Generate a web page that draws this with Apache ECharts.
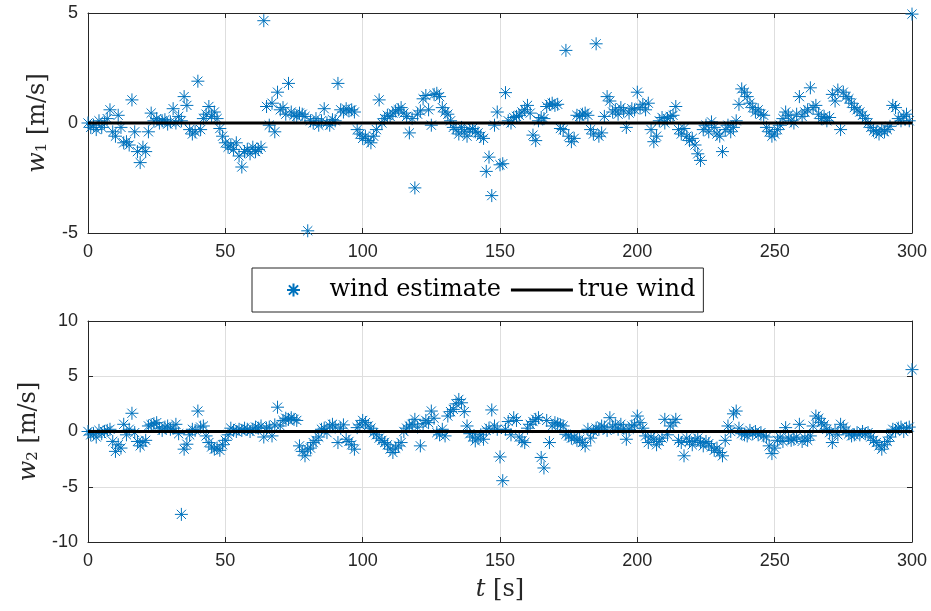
<!DOCTYPE html>
<html>
<head>
<meta charset="utf-8">
<script src="https://cdn.jsdelivr.net/npm/echarts@6/dist/echarts.min.js"></script>
<style>
html,body{margin:0;padding:0;background:#fff;}
#chart{width:931px;height:611px;}
</style>
</head>
<body>
<div id="chart"></div>
<script>
// sample time settings
const tStart = 0;
const dt = 1;
// estimated wind component w1 [m/s], one value per second, t = 0..300
const w1Est = [
  0, -0.2, -0.1, -0.3, 0.1, -0.2, 0, 0.2, 0.6, -0.4,
  -0.6, 0.35, -0.2, -0.9, -0.85, -1.0, 1.05, -0.4, -1.3, -1.8,
  -1.1, -1.3, -0.4, 0.45, 0.1, 0.2, 0.0, 0.1, 0.15, -0.05,
  0.05, 0.65, 0.0, 0.3, 0.1, 1.2, 0.8, -0.3, -0.5, -0.4,
  1.9, -0.3, 0.2, 0.4, 0.75, 0.3, 0.5, 0.2, -0.25, -0.6,
  -0.9, -1.1, -1.0, -1.2, -0.9, -1.5, -2.0, -1.3, -1.2, -1.4,
  -1.1, -1.3, -1.2, -1.1, 4.65, 0.75, -0.1, 0.9, -0.4, 1.4,
  0.6, 0.7, 0.4, 1.8, 0.5, 0.35, 0.3, 0.45, 0.4, 0.3,
  -4.9, 0.1, 0.0, 0.2, -0.1, 0.1, 0.65, 0.0, -0.1, 0.15,
  0.1, 1.8, 0.6, 0.5, 0.65, 0.55, 0.6, 0.5, -0.3, -0.5,
  -0.7, -0.6, -0.8, -0.9, -0.6, -0.3, 1.05, 0.0, 0.2, 0.35,
  0.3, 0.45, 0.55, 0.6, 0.7, 0.45, 0.3, -0.45, 0.2, -2.95,
  0.4, 0.55, 1.1, 1.25, 0.6, -0.1, 1.3, 1.35, 1.2, 0.7,
  0.5, 0.4, 0.1, -0.2, -0.3, -0.5, -0.2, -0.4, -0.6, -0.3,
  -0.25, -0.4, -0.45, -0.6, -0.7, -2.2, -1.55, -3.3, -0.1, 0.5,
  -1.9, -1.85, 1.38, 0.1, 0.0, 0.25, 0.3, 0.35, 0.5, 0.6,
  0.8, 0.45, -0.55, -0.8, 0.1, 0.25, 0.2, 0.75, 0.85, 0.9,
  0.8, 0.85, -0.25, -0.3, 3.3, -0.6, -0.85, -0.7, 0.35, 0.3,
  0.4, 0.45, 0.35, -0.3, -0.5, 3.6, -0.6, -0.45, 0.3, 1.2,
  1.0, 0.5, 0.6, 0.4, 0.7, 0.55, -0.2, 0.45, 0.65, 0.6,
  1.4, 0.7, 0.85, 0.6, 0.9, -0.3, -0.85, -0.6, 0.1, 0.25,
  0.0, 0.2, 0.3, 0.35, 0.75, -0.3, -0.5, -0.25, -0.6, -0.8,
  -0.7, -1.0, -1.4, -1.7, -0.3, -0.1, -0.4, 0.05, -0.2, -0.5,
  -0.6, -1.3, -0.3, -0.1, -0.4, -0.2, 0.1, 0.85, 1.55, 1.4,
  1.2, 0.9, 0.7, 0.5, 0.6, 0.4, 0.35, -0.2, -0.4, -0.6,
  -0.5, -0.3, -0.1, 0.2, 0.5, 0.35, 0.1, 0.0, 0.4, 1.2,
  0.3, 0.5, 0.6, 1.6, 0.7, 0.8, 0.4, 0.2, 0.3, 0.1,
  0.25, 1.3, 1.0, 1.5, -0.3, 1.4, 1.2, 1.1, 0.9, 0.7,
  0.6, 0.5, 0.35, 0.2, 0.0, -0.2, -0.35, -0.4, -0.5, -0.3,
  -0.4, -0.3, -0.15, 0.8, 0.7, 0.2, 0.1, 0.3, 0.4, 0.1,
  4.95
];
// estimated wind component w2 [m/s], t = 0..300
const w2Est = [
  0, -0.3, -0.2, -0.5, 0.1, -0.2, 0, 0.1, 0.2, -0.9,
  -1.8, -1.2, -1.5, 0.65, -0.3, 0.2, 1.65, -0.1, -0.9, -1.3,
  -1.0, -0.8, 0.5, 0.6, 0.7, 0.8, 0.3, 0.1, 0.4, 0.5,
  0.2, 0.3, 0.65, -0.2, -7.5, -1.6, -1.15, -0.3, 0.2, 0.1,
  1.85, 0.4, 0.5, -0.4, -1.0, -1.4, -1.6, -1.5, -1.7, -1.2,
  -0.8, -0.3, 0.3, 0.1, 0.0, 0.2, 0.1, 0.3, 0.2, 0.0,
  0.2, 0.4, 0.3, 0.5, -0.5, 0.3, 0.4, -0.4, 0.6, 2.2,
  0.5, 1.0, 1.2, 1.1, 1.25, 1.1, 1.0, -1.3, -1.8, -2.2,
  -1.6, -1.5, -1.0, -0.8, -0.5, 0.2, 0.3, -0.1, 0.5, 0.65,
  0.4, -1.0, 0.3, 0.6, -0.7, -0.9, -1.2, -1.6, 0.35, 0.6,
  1.0, 0.8, 0.5, 0.3, -0.1, -0.3, -0.6, -0.8, -1.0, -1.2,
  -1.6, -1.9, -1.5, -1.3, -1.0, 0.0, 0.3, 0.5, 0.65, 1.1,
  0.4, -1.3, 0.7, 1.0, 0.8, 1.85, 1.2, -0.1, -0.3, 0.2,
  -0.4, 1.4, 1.8, 2.0, 2.5, 2.9, 2.6, 1.8, 0.5, -0.2,
  -0.5, -0.85, -0.6, -0.3, -0.7, 0.1, 0.3, 1.95, 0.5, 0.2,
  -2.3, -4.45, 0.2, 0.9, -0.3, 1.25, 1.0, -0.5, -0.85, -1.0,
  0.3, 0.65, 0.9, 1.1, 1.25, -2.35, -3.3, 1.0, -1.0, 0.5,
  0.8, 0.7, 0.6, 0.5, -0.25, -0.4, -0.6, -0.5, -0.8, -0.7,
  -1.0, -1.3, 0.2, -0.6, 0.0, 0.3, 0.2, 0.5, 0.4, 0.1,
  1.25, 0.4, 0.6, 0.2, 0.65, 0.3, -0.7, 0.2, 0.5, 0.6,
  1.4, 0.8, 0.3, -0.4, -1.0, -0.5, -0.7, -1.2, -0.9, -0.6,
  1.1, -0.3, 0.5, 0.8, 1.1, -0.8, -1.0, -2.2, -0.6, -0.9,
  -1.2, -0.8, -0.6, -1.0, -1.3, -0.9, -1.1, -1.4, -1.7, -1.5,
  -1.9, -2.2, -0.8, 0.5, 0.0, 1.6, 1.85, 0.3, -0.2, -0.3,
  -0.4, 0.1, -0.2, 0.0, -0.3, -0.1, -0.4, -0.5, -1.3, -2.0,
  -1.5, -0.8, -0.5, -0.9, 0.35, -0.6, -0.8, -0.7, -0.5, 0.65,
  -0.9, -0.6, -0.8, -0.4, 0.5, 1.4, 1.2, 0.8, 0.6, 0.2,
  -0.1, -1.0, 0.0, -0.3, 0.65, 0.4, 0.1, -0.2, -0.4, -0.3,
  -0.1, -0.3, 0.0, -0.2, -0.1, -0.5, -0.8, -1.0, -1.3, -1.6,
  -1.2, -0.9, -0.5, 0.2, 0.1, 0.3, 0.4, 0.0, 0.3, 0.4,
  5.6
];
// true wind (constant zero) endpoints
const trueT = [0, 300];
const trueW1 = [0, 0];
const trueW2 = [0, 0];

const BLUE = '#0072BD';
const AX = '#262626';
const GRIDC = '#dedede';
const STAR = 'path://M0,-1L0,1M-1,0L1,0M-0.7071,-0.7071L0.7071,0.7071M-0.7071,0.7071L0.7071,-0.7071';
const LINEICON = 'path://M0,0H62V3H0Z';

const pairs = (arr) => arr.map((v, i) => [tStart + i * dt, v]);
const linePairs = (ts, vs) => ts.map((x, i) => [x, vs[i]]);

const tickFont = {fontFamily: 'Liberation Sans, Arial, sans-serif', fontSize: 18, color: AX};
const nameRich = {
  it: {fontFamily: 'DejaVu Serif', fontStyle: 'italic', fontSize: 24, color: AX},
  sub: {fontFamily: 'DejaVu Serif', fontSize: 15, color: AX, verticalAlign: 'bottom', padding: [10, 0, 0, 0]},
  rm: {fontFamily: 'DejaVu Serif', fontSize: 24, color: AX}
};

function xAx(gridIndex, primary) {
  return {
    type: 'value', gridIndex, min: 0, max: 300, interval: 50,
    position: primary ? 'bottom' : 'top',
    axisLine: {show: true, onZero: false, lineStyle: {color: AX, width: 1}},
    axisTick: {show: true, inside: true, length: 5, lineStyle: {color: AX}},
    axisLabel: primary ? Object.assign({show: true, margin: 10}, tickFont) : {show: false},
    splitLine: primary ? {show: true, lineStyle: {color: GRIDC, width: 1}} : {show: false}
  };
}
function yAx(gridIndex, primary, lim, name) {
  const o = {
    type: 'value', gridIndex, min: -lim, max: lim, interval: 5,
    position: primary ? 'left' : 'right',
    axisLine: {show: true, onZero: false, lineStyle: {color: AX, width: 1}},
    axisTick: {show: true, inside: true, length: 5, lineStyle: {color: AX}},
    axisLabel: primary ? Object.assign({show: true, margin: 10}, tickFont) : {show: false},
    splitLine: primary ? {show: true, lineStyle: {color: GRIDC, width: 1}} : {show: false}
  };
  if (primary) {
    o.name = name;
    o.nameLocation = 'middle';
    o.nameGap = 38;
    o.nameTextStyle = {fontFamily: 'DejaVu Serif', fontSize: 24, color: AX, rich: nameRich};
  }
  return o;
}

const xAxes = [xAx(0, true), xAx(1, true), xAx(0, false), xAx(1, false)];
xAxes[1].name = '{it|t} {rm|[s]}';
xAxes[1].nameLocation = 'middle';
xAxes[1].nameGap = 36;
xAxes[1].nameTextStyle = {fontFamily: 'DejaVu Serif', fontSize: 24, color: AX, rich: nameRich};
const yAxes = [
  yAx(0, true, 5, '{it|w}{sub|1} {rm|[m/s]}'),
  yAx(1, true, 10, '{it|w}{sub|2} {rm|[m/s]}'),
  yAx(0, false, 5), yAx(1, false, 10)
];

const starStyle = {color: BLUE, borderColor: BLUE, borderWidth: 1, opacity: 1};

const option = {
  animation: false,
  backgroundColor: '#fff',
  grid: [
    {left: 88, top: 13, width: 824, height: 220, containLabel: false},
    {left: 88, top: 321, width: 824, height: 221, containLabel: false}
  ],
  legend: {
    data: [
      {name: 'wind estimate', icon: STAR},
      {name: 'true wind', icon: LINEICON}
    ],
    left: 252, top: 268,
    orient: 'horizontal',
    itemWidth: 62, itemHeight: 13, itemGap: 10,
    padding: [10, 8, 10, 34],
    borderColor: AX, borderWidth: 1,
    backgroundColor: '#fff',
    symbolKeepAspect: true,
    textStyle: {fontFamily: 'DejaVu Serif', fontSize: 24, color: '#000'}
  },
  xAxis: xAxes,
  yAxis: yAxes,
  series: [
    {
      name: 'wind estimate', type: 'scatter', xAxisIndex: 0, yAxisIndex: 0,
      data: pairs(w1Est), symbol: STAR, symbolSize: 13, itemStyle: starStyle, z: 2, clip: false
    },
    {
      name: 'true wind', type: 'line', xAxisIndex: 0, yAxisIndex: 0,
      data: linePairs(trueT, trueW1), symbol: 'none', showSymbol: false,
      lineStyle: {color: '#000', width: 3}, itemStyle: {color: '#000'}, z: 5
    },
    {
      name: 'wind estimate', type: 'scatter', xAxisIndex: 1, yAxisIndex: 1,
      data: pairs(w2Est), symbol: STAR, symbolSize: 13, itemStyle: starStyle, z: 2, clip: false
    },
    {
      name: 'true wind', type: 'line', xAxisIndex: 1, yAxisIndex: 1,
      data: linePairs(trueT, trueW2), symbol: 'none', showSymbol: false,
      lineStyle: {color: '#000', width: 3}, itemStyle: {color: '#000'}, z: 5
    }
  ]
};

const chart = echarts.init(document.getElementById('chart'), null, {renderer: 'canvas'});
chart.setOption(option);
</script>
</body>
</html>
